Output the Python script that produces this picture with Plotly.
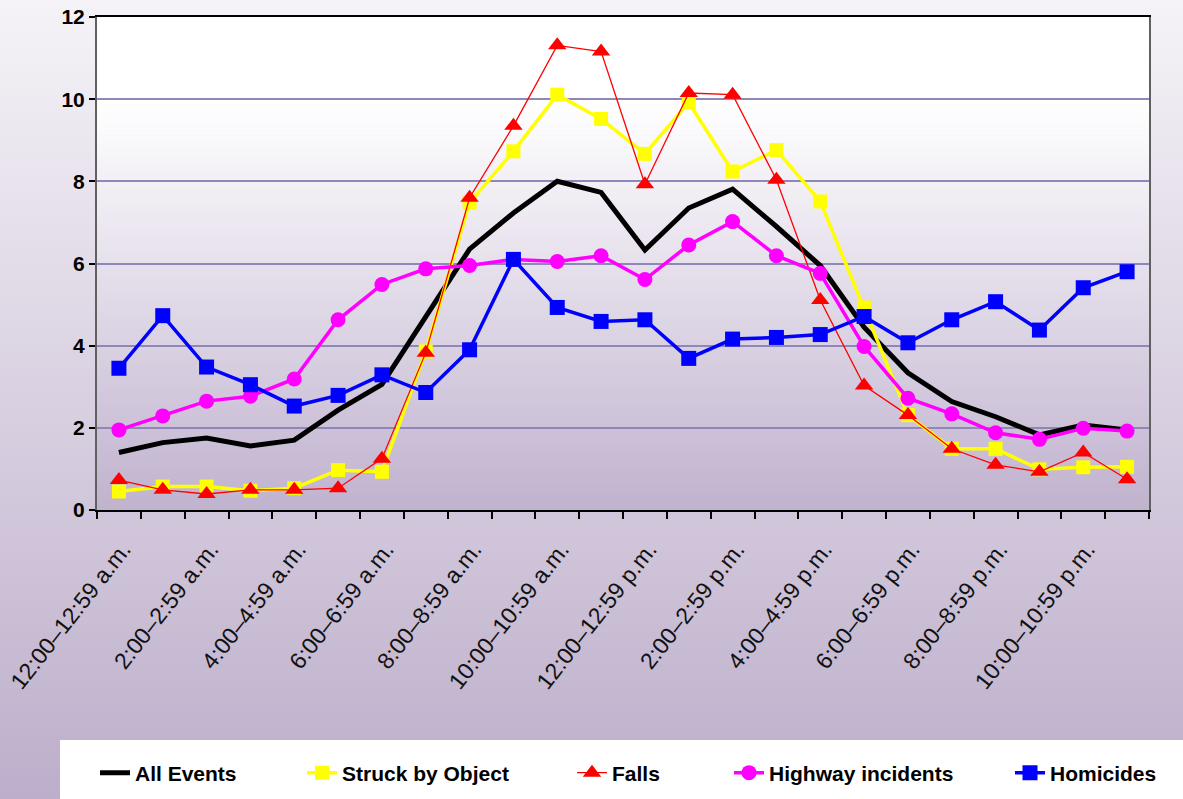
import plotly.graph_objects as go

# ---------------- data ----------------
categories = [
    "12:00–12:59 a.m.", "1:00–1:59 a.m.", "2:00–2:59 a.m.", "3:00–3:59 a.m.",
    "4:00–4:59 a.m.", "5:00–5:59 a.m.", "6:00–6:59 a.m.", "7:00–7:59 a.m.",
    "8:00–8:59 a.m.", "9:00–9:59 a.m.", "10:00–10:59 a.m.", "11:00–11:59 a.m.",
    "12:00–12:59 p.m.", "1:00–1:59 p.m.", "2:00–2:59 p.m.", "3:00–3:59 p.m.",
    "4:00–4:59 p.m.", "5:00–5:59 p.m.", "6:00–6:59 p.m.", "7:00–7:59 p.m.",
    "8:00–8:59 p.m.", "9:00–9:59 p.m.", "10:00–10:59 p.m.", "11:00–11:59 p.m.",
]
all_events = [1.40, 1.64, 1.75, 1.56, 1.70, 2.43, 3.06, 4.70, 6.35, 7.23, 8.00, 7.73,
              6.33, 7.35, 7.81, 6.90, 5.95, 4.45, 3.34, 2.64, 2.27, 1.83, 2.07, 1.95]
struck_by_object = [0.45, 0.57, 0.57, 0.47, 0.53, 0.97, 0.93, 3.86, 7.48, 8.73, 10.11, 9.52,
                    8.67, 9.92, 8.24, 8.76, 7.51, 4.93, 2.31, 1.49, 1.49, 0.99, 1.04, 1.05]
falls = [0.73, 0.49, 0.39, 0.49, 0.49, 0.53, 1.25, 3.83, 7.60, 9.35, 11.31, 11.16,
         7.93, 10.15, 10.11, 8.04, 5.11, 3.03, 2.31, 1.49, 1.10, 0.93, 1.40, 0.75]
highway_incidents = [1.95, 2.29, 2.65, 2.77, 3.19, 4.63, 5.49, 5.87, 5.95, 6.10, 6.05, 6.19,
                     5.61, 6.45, 7.02, 6.19, 5.76, 3.98, 2.72, 2.34, 1.88, 1.72, 1.99, 1.92]
homicides = [3.45, 4.73, 3.48, 3.05, 2.53, 2.79, 3.29, 2.86, 3.90, 6.10, 4.93, 4.59,
             4.63, 3.69, 4.16, 4.20, 4.27, 4.71, 4.07, 4.63, 5.07, 4.38, 5.41, 5.80]
y_ticks = [0, 2, 4, 6, 8, 10, 12]

# ---------------- layout geometry ----------------
W, H = 1183, 799
L, R, T, B = 97, 34, 17, 289
PW, PH = W - L - R, H - T - B


def px_x(px):
    return (px - L) / PW


def px_y(py):
    return (H - B - py) / PH


x_idx = list(range(len(categories)))
FONT = "Liberation Sans, Arial, sans-serif"

fig = go.Figure()

series = [
    ("All Events", all_events, dict(color="#000000", width=5), None, "legend"),
    ("Struck by Object", struck_by_object, dict(color="#ffff00", width=3.5),
     dict(symbol="square", size=14, color="#ffff00"), "legend2"),
    ("Falls", falls, dict(color="#ff0000", width=1.3),
     dict(symbol="triangle-up", size=16, color="#ff0000"), "legend3"),
    ("Highway incidents", highway_incidents, dict(color="#ff00ff", width=3.5),
     dict(symbol="circle", size=15, color="#ff00ff"), "legend4"),
    ("Homicides", homicides, dict(color="#0000ff", width=3.5),
     dict(symbol="square", size=15, color="#0000ff"), "legend5"),
]
for name, vals, line, marker, lg in series:
    fig.add_trace(go.Scatter(
        x=x_idx, y=vals, name=name, legend=lg,
        mode="lines" if marker is None else "lines+markers",
        line=line, marker=marker, cliponaxis=False,
    ))

# ---------------- background gradients ----------------
shapes = []
N = 100
top_c, bot_c = (245, 243, 247), (189, 174, 203)
for i in range(N):
    y0p, y1p = H * i / N, H * (i + 1) / N + 0.6
    t = (i + 0.5) / N
    c = tuple(round(top_c[k] + (bot_c[k] - top_c[k]) * t) for k in range(3))
    shapes.append(dict(type="rect", xref="paper", yref="paper", layer="below",
                       x0=px_x(-2), x1=px_x(W + 2), y0=px_y(y1p), y1=px_y(y0p),
                       fillcolor="rgb(%d,%d,%d)" % c, line=dict(width=0)))
# plot area: white top, fading to lavender
g_start = 100
ptop, pbot = (255, 255, 255), (192, 178, 206)
shapes.append(dict(type="rect", xref="paper", yref="paper", layer="below",
                   x0=0, x1=1, y0=px_y(g_start), y1=1,
                   fillcolor="white", line=dict(width=0)))
M = 70
for i in range(M):
    y0p = g_start + (H - B - g_start) * i / M
    y1p = g_start + (H - B - g_start) * (i + 1) / M + 0.6
    t = (i + 0.5) / M
    c = tuple(round(ptop[k] + (pbot[k] - ptop[k]) * t) for k in range(3))
    shapes.append(dict(type="rect", xref="paper", yref="paper", layer="below",
                       x0=0, x1=1, y0=max(px_y(y1p), 0), y1=px_y(y0p),
                       fillcolor="rgb(%d,%d,%d)" % c, line=dict(width=0)))
# legend white box
shapes.append(dict(type="rect", xref="paper", yref="paper", layer="below",
                   x0=px_x(60), x1=px_x(W + 2), y0=px_y(H + 2), y1=px_y(740),
                   fillcolor="white", line=dict(width=0)))

# ---------------- legends ----------------
legend_text_x = [137, 344, 614, 771, 1052]
leg_keys = ["legend", "legend2", "legend3", "legend4", "legend5"]
legends = {}
for key, tx in zip(leg_keys, legend_text_x):
    legends[key] = dict(
        orientation="h", x=px_x(tx - 42), xanchor="left",
        y=px_y(773), yanchor="middle",
        bgcolor="rgba(0,0,0,0)", borderwidth=0,
        font=dict(family=FONT, size=21, color="#000000", weight="bold"),
        itemsizing="trace", itemwidth=30,
    )

fig.update_layout(
    width=W, height=H,
    margin=dict(l=L, r=R, t=T, b=B, pad=0, autoexpand=False),
    paper_bgcolor="rgb(220,212,228)",
    plot_bgcolor="rgba(0,0,0,0)",
    shapes=shapes,
    showlegend=True,
    **legends,
)

fig.update_xaxes(
    range=[-0.5, len(categories) - 0.5],
    tickmode="array", tickvals=x_idx[::2], ticktext=categories[::2],
    tickangle=-52, ticks="", showgrid=False, zeroline=False,
    ticklabelstandoff=15, ticklabelshift=4, ticklabeloverflow="allow",
    tickfont=dict(family=FONT, size=23, color="#111111"),
    showline=True, linecolor="#000000", linewidth=1.5, mirror=True,
    minor=dict(tickvals=[i - 0.5 for i in range(len(categories) + 1)],
               ticks="outside", ticklen=7, tickwidth=2, tickcolor="#000000",
               showgrid=False),
)
fig.update_yaxes(
    range=[0, 12], tickmode="array", tickvals=y_ticks,
    ticks="outside", ticklen=6, tickwidth=2, tickcolor="#000000",
    showgrid=True, gridcolor="#8f87b9", gridwidth=2, zeroline=False,
    tickfont=dict(family=FONT, size=21, color="#000000", weight="bold"),
    showline=True, linecolor="#606060", linewidth=2, mirror=True,
)

fig.write_html(
    "out.html",
    config={"displayModeBar": False},
    post_script="document.body.style.margin='0';document.body.style.overflow='hidden';",
)
